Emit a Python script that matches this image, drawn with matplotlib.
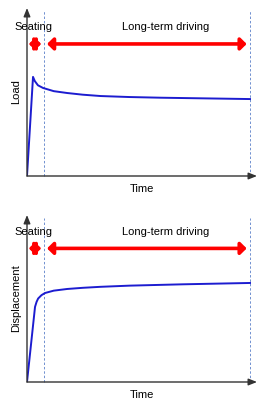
import matplotlib
matplotlib.use('Agg')
import matplotlib.pyplot as plt

plt.rcParams['font.family'] = ['Liberation Sans', 'DejaVu Sans']

# время нормировано: 1.0 = конец испытания
t_seat = 0.078

t_load = [0, 0.027, 0.035, 0.049, 0.072, 0.12, 0.18, 0.25, 0.33, 0.46, 0.6, 0.8, 1.0]
load = [0, 0.59, 0.565, 0.54, 0.524, 0.505, 0.494, 0.484, 0.476, 0.47, 0.466, 0.462, 0.458]

t_disp = [0, 0.036, 0.043, 0.05, 0.065, 0.081, 0.12, 0.18, 0.25, 0.33, 0.46, 0.7, 1.0]
disp = [0, 0.45, 0.48, 0.50, 0.52, 0.533, 0.547, 0.557, 0.564, 0.57, 0.577, 0.585, 0.593]

ylabels = ['Load', 'Displacement']
seg_labels = ['Seating', 'Long-term driving']

fig = plt.figure(figsize=(2.57, 4.0), dpi=100)
ax1 = fig.add_axes([27/257, 224/400, 230/257, 168/400])
ax2 = fig.add_axes([27/257, 18/400, 230/257, 167/400])

panels = [(ax1, t_load, load, ylabels[0], 0.786, 0.887),
          (ax2, t_disp, disp, ylabels[1], 0.80, 0.90)]

for ax, t, y, lab, y_arr, y_txt in panels:
    ax.set_xlim(0, 230/223)
    ax.set_ylim(0, 1)
    for s in ax.spines.values():
        s.set_visible(False)
    ax.set_xticks([])
    ax.set_yticks([])

    # оси со стрелками
    ax.annotate('', xy=(1.0, 0), xytext=(0, 0), xycoords='axes fraction',
                arrowprops=dict(arrowstyle='-|>,head_length=0.5,head_width=0.2',
                                color='#333333', lw=1, shrinkA=0, shrinkB=0))
    ax.annotate('', xy=(0, 1.0), xytext=(0, 0), xycoords='axes fraction',
                arrowprops=dict(arrowstyle='-|>,head_length=0.5,head_width=0.2',
                                color='#333333', lw=1, shrinkA=0, shrinkB=0))

    # пунктирные границы этапов
    for xv in [t_seat, 1.0]:
        ax.plot([xv, xv], [0, 0.98], color='#7090d0', lw=0.7,
                dashes=(2.5, 2), clip_on=False)

    ax.plot(t, y, color='#1c1cd0', lw=1.4)

    # красные стрелки этапов
    ap = dict(arrowstyle='<|-|>,head_length=0.35,head_width=0.35',
              color='red', lw=2.6, shrinkA=0, shrinkB=0, mutation_scale=10)
    ax.annotate('', xy=(0.008, y_arr), xytext=(t_seat - 0.014, y_arr), arrowprops=ap)
    ax.annotate('', xy=(t_seat + 0.012, y_arr), xytext=(0.985, y_arr), arrowprops=ap)

    ax.text(0.03, y_txt, seg_labels[0], fontsize=8, ha='center', va='center')
    ax.text(0.62, y_txt, seg_labels[1], fontsize=8, ha='center', va='center')

    ax.set_xlabel('Time', fontsize=8, labelpad=6)
    ax.set_ylabel(lab, fontsize=8, labelpad=4)

fig.savefig('out.png', dpi=100)
